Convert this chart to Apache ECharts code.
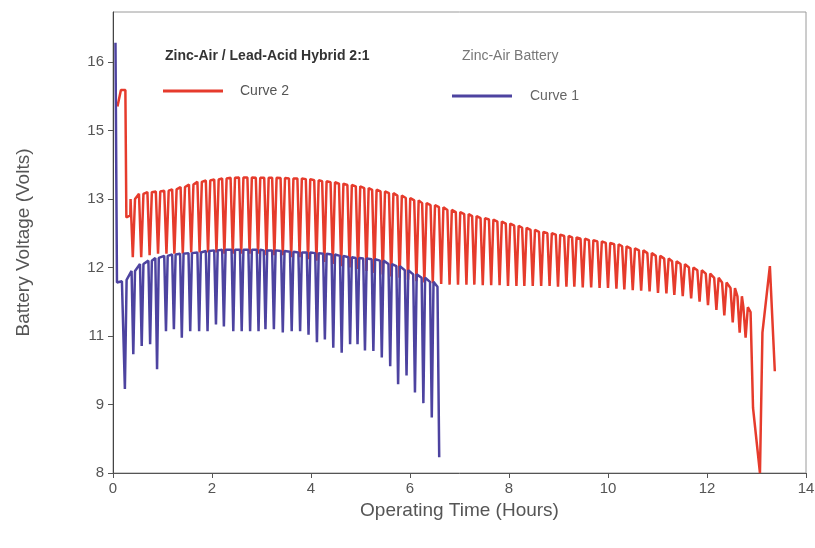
<!DOCTYPE html>
<html><head><meta charset="utf-8">
<script src="https://cdn.jsdelivr.net/npm/echarts@6/dist/echarts.min.js"></script>
<style>html,body{margin:0;padding:0;background:#fff}#c{width:815px;height:548px}</style>
</head><body><div id="c"></div>
<script>
// Y tick labels as printed on the original (evenly spaced positions)
const yTickLabels = ['8', '9', '11', '12', '13', '15', '16'];
const yTickVolts = [8, 9, 11, 12, 13, 15, 16];
const xTickInterval = 2;

// Curve 2 : Zinc-Air / Lead-Acid Hybrid 2:1 (hours, volts)
const curve2LeadT = [0.09, 0.16, 0.25, 0.27, 0.35];
const curve2LeadV = [15.35, 15.59, 15.59, 12.73, 12.76];
const curve2SpikeT = [
  0.40, 0.57, 0.74, 0.91, 1.08, 1.24, 1.41, 1.58, 1.75, 1.92,
  2.09, 2.25, 2.42, 2.59, 2.76, 2.93, 3.10, 3.26, 3.43, 3.60,
  3.77, 3.94, 4.11, 4.27, 4.44, 4.61, 4.78, 4.95, 5.12, 5.28,
  5.45, 5.62, 5.79, 5.96, 6.13, 6.29, 6.46, 6.63, 6.80, 6.97,
  7.14, 7.30, 7.47, 7.64, 7.81, 7.98, 8.15, 8.31, 8.48, 8.65,
  8.82, 8.99, 9.16, 9.32, 9.49, 9.66, 9.83, 10.00, 10.17, 10.33,
  10.50, 10.67, 10.84, 11.01, 11.18, 11.34, 11.51, 11.68, 11.85, 12.02,
  12.19, 12.35, 12.52, 12.66, 12.78];
const curve2TopV = [
  13.00, 13.15, 13.20, 13.22, 13.24, 13.28, 13.35, 13.42, 13.50, 13.54,
  13.57, 13.60, 13.62, 13.63, 13.63, 13.62, 13.62, 13.62, 13.61, 13.60,
  13.60, 13.58, 13.55, 13.52, 13.49, 13.45, 13.41, 13.37, 13.32, 13.27,
  13.22, 13.17, 13.10, 13.03, 12.98, 12.94, 12.91, 12.88, 12.84, 12.81,
  12.78, 12.75, 12.72, 12.70, 12.67, 12.64, 12.61, 12.58, 12.55, 12.52,
  12.50, 12.48, 12.46, 12.44, 12.42, 12.40, 12.38, 12.36, 12.34, 12.31,
  12.28, 12.25, 12.21, 12.17, 12.13, 12.09, 12.05, 12.00, 11.96, 11.91,
  11.85, 11.78, 11.70, 11.58, 11.42];
const curve2BottomV = [
  12.15, 12.15, 12.18, 12.20, 12.20, 12.20, 12.20, 12.22, 12.22, 12.22,
  12.22, 12.20, 12.20, 12.20, 12.20, 12.20, 12.18, 12.18, 12.18, 12.15,
  12.15, 12.12, 12.10, 12.08, 12.05, 12.02, 12.00, 11.98, 11.95, 11.92,
  11.90, 11.87, 11.85, 11.82, 11.80, 11.78, 11.77, 11.76, 11.75, 11.75,
  11.75, 11.75, 11.74, 11.74, 11.74, 11.73, 11.73, 11.73, 11.73, 11.73,
  11.73, 11.72, 11.72, 11.72, 11.71, 11.71, 11.70, 11.70, 11.69, 11.68,
  11.67, 11.66, 11.65, 11.63, 11.62, 11.60, 11.58, 11.55, 11.50, 11.45,
  11.38, 11.30, 11.20, 11.05, 10.95];
const curve2TailT = [12.88, 12.93, 13.07, 13.10, 13.12, 13.27, 13.37];
const curve2TailV = [11.35, 8.95, 8.00, 8.00, 11.05, 12.02, 9.97];

// Curve 1 : Zinc-Air Battery (hours, volts)
const curve1LeadT = [0.05, 0.08, 0.18];
const curve1LeadV = [16.28, 11.78, 11.80];
const curve1SpikeT = [
  0.24, 0.41, 0.58, 0.75, 0.89, 1.07, 1.23, 1.39, 1.56, 1.74,
  1.91, 2.08, 2.24, 2.43, 2.60, 2.77, 2.94, 3.08, 3.25, 3.43,
  3.61, 3.78, 3.95, 4.12, 4.28, 4.45, 4.62, 4.79, 4.94, 5.09,
  5.26, 5.43, 5.60, 5.76, 5.93, 6.10, 6.27, 6.44, 6.59];
const curve1TopV = [
  11.82, 11.95, 12.05, 12.10, 12.14, 12.17, 12.19, 12.20, 12.21, 12.22,
  12.24, 12.25, 12.26, 12.26, 12.26, 12.26, 12.26, 12.25, 12.25, 12.24,
  12.23, 12.22, 12.22, 12.21, 12.20, 12.19, 12.17, 12.15, 12.14, 12.13,
  12.12, 12.10, 12.05, 12.02, 11.96, 11.90, 11.85, 11.79, 11.72];
const curve1BottomV = [
  9.45, 10.47, 10.71, 10.76, 10.03, 11.07, 11.10, 10.95, 11.07, 11.07,
  11.07, 11.17, 11.14, 11.07, 11.07, 11.07, 11.07, 11.10, 11.10, 11.05,
  11.07, 11.07, 11.02, 10.82, 10.90, 10.66, 10.51, 10.76, 10.76, 10.58,
  10.56, 10.37, 10.12, 9.59, 9.85, 9.35, 9.04, 8.81, 8.23];

// map printed volts onto evenly spaced tick positions
function toAxis(v) {
  const n = yTickVolts.length;
  if (v <= yTickVolts[0]) return v - yTickVolts[0];
  for (let i = 0; i < n - 1; i++) {
    if (v <= yTickVolts[i + 1]) {
      return i + (v - yTickVolts[i]) / (yTickVolts[i + 1] - yTickVolts[i]);
    }
  }
  return (n - 1) + (v - yTickVolts[n - 1]);
}

function build(leadT, leadV, spT, topV, botV, tailT, tailV, w, closeLast) {
  const d = [];
  leadT.forEach((t, i) => d.push([t, toAxis(leadV[i])]));
  spT.forEach((t, i) => {
    d.push([t - w, toAxis(topV[i])]);
    d.push([t, toAxis(botV[i])]);
    if (i < spT.length - 1 || closeLast) d.push([t + w, toAxis(topV[i])]);
  });
  tailT.forEach((t, i) => d.push([t, toAxis(tailV[i])]));
  return d;
}

const red = '#e63b2c';
const blue = '#4d43a0';
const curve2 = build(curve2LeadT, curve2LeadV, curve2SpikeT, curve2TopV, curve2BottomV, curve2TailT, curve2TailV, 0.045, true);
const curve1 = build(curve1LeadT, curve1LeadV, curve1SpikeT, curve1TopV, curve1BottomV, [], [], 0.035, false);

const chart = echarts.init(document.getElementById('c'), null, {renderer: 'canvas'});
const font = 'Liberation Sans';
chart.setOption({
  animation: false,
  backgroundColor: '#ffffff',
  grid: {left: 113, right: 9, top: 12, bottom: 75, show: true, borderColor: '#9a9a9a', borderWidth: 1, outerBoundsMode: 'none'},
  xAxis: {
    type: 'value', min: 0, max: 14, interval: xTickInterval,
    name: 'Operating Time (Hours)', nameLocation: 'middle', nameGap: 27,
    nameTextStyle: {fontFamily: font, fontSize: 19, color: '#555'},
    axisLine: {lineStyle: {color: '#555', width: 1}},
    axisTick: {inside: false, length: 5, lineStyle: {color: '#555'}},
    axisLabel: {fontFamily: font, fontSize: 15, color: '#555', margin: 8},
    splitLine: {show: false}
  },
  yAxis: {
    type: 'value', min: 0, max: 6.73, interval: 1,
    name: 'Battery Voltage (Volts)', nameLocation: 'middle', nameGap: 80,
    nameTextStyle: {fontFamily: font, fontSize: 19, color: '#555'},
    axisLine: {show: true, lineStyle: {color: '#444', width: 1}},
    axisTick: {show: true, inside: false, length: 5, lineStyle: {color: '#555'}, customValues: [0, 1, 2, 3, 4, 5, 6]},
    axisLabel: {fontFamily: font, fontSize: 15, color: '#555', margin: 9,
      customValues: [0, 1, 2, 3, 4, 5, 6],
      formatter: v => yTickLabels[Math.round(v)] || ''},
    splitLine: {show: false}
  },
  legend: [
    {data: ['Curve 2'], left: 163, top: 84, padding: 0, itemWidth: 60, itemHeight: 3, icon: 'rect',
     textStyle: {fontFamily: font, fontSize: 14, color: '#555', padding: [0, 0, 0, 12]}},
    {data: ['Curve 1'], left: 452, top: 89, padding: 0, itemWidth: 60, itemHeight: 3, icon: 'rect',
     textStyle: {fontFamily: font, fontSize: 14, color: '#666', padding: [0, 0, 0, 13]}}
  ],
  graphic: [
    {type: 'text', left: 165, top: 49, style: {text: 'Zinc-Air / Lead-Acid Hybrid 2:1', fontFamily: font, fontSize: 14, fontWeight: 'bold', fill: '#333'}},
    {type: 'text', left: 462, top: 49, style: {text: 'Zinc-Air Battery', fontFamily: font, fontSize: 14, fill: '#777'}}
  ],
  series: [
    {name: 'Curve 2', type: 'line', data: curve2, showSymbol: false, symbol: 'none', color: red,
     lineStyle: {color: red, width: 2.5}, z: 2},
    {name: 'Curve 1', type: 'line', data: curve1, showSymbol: false, symbol: 'none', color: blue,
     lineStyle: {color: blue, width: 2.5}, z: 3}
  ]
});
</script></body></html>
